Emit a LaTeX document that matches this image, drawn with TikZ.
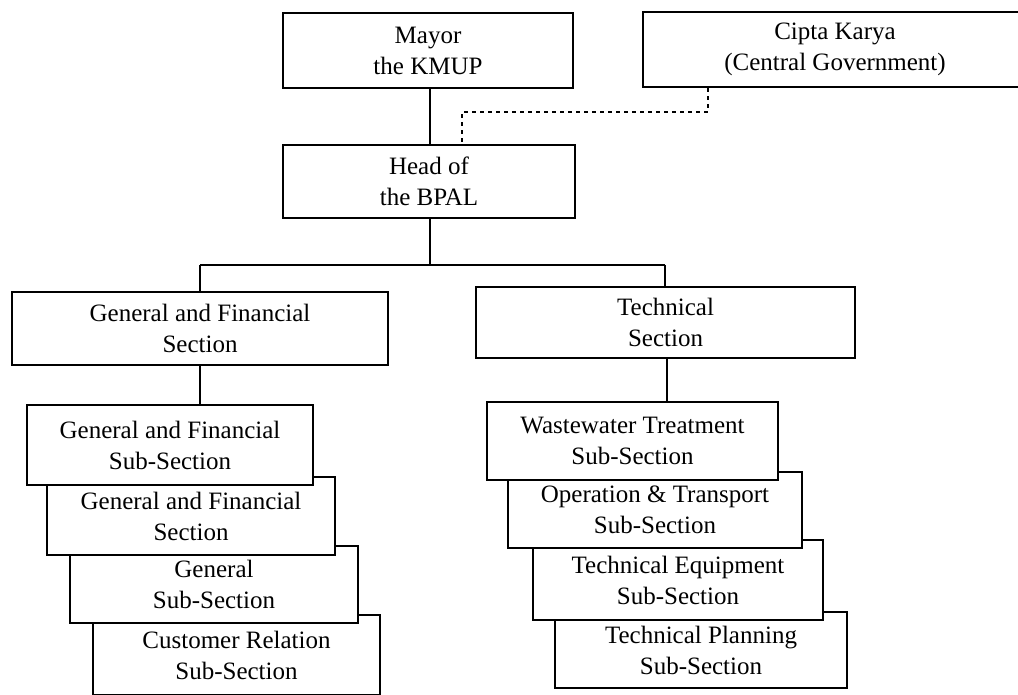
\documentclass[tikz,border=0pt]{standalone}
\usepackage{fontspec}
\setmainfont{Liberation Serif}
\begin{document}
\begin{tikzpicture}[x=1pt,y=-1pt,
  unit/.style={draw=black, fill=white, line width=2.2pt, align=center,
    inner sep=0pt, font=\fontsize{25}{31}\selectfont},
  link/.style={line width=2.8pt},
  advisory/.style={line width=2.6pt, dash pattern=on 4pt off 4pt}]
\useasboundingbox (0,0) rectangle (1018,695);
\clip (0,0) rectangle (1018,695);

% top level
\node[unit, minimum width=290pt, minimum height=75pt] (mayor) at (428,50.5) {Mayor\\the KMUP};
\node[unit, minimum width=384pt, minimum height=75pt] (cipta) at (835,49.5) {Cipta Karya\\(Central Government)};
\node[unit, minimum width=292pt, minimum height=73pt] (head) at (429,181.5) {Head of\\the BPAL};

% sections
\node[unit, minimum width=376pt, minimum height=73pt] (gfs) at (200,328.5) {General and Financial\\Section};
\node[unit, minimum width=379pt, minimum height=71pt] (tech) at (665.5,322.5) {Technical\\Section};

% stacked sub-sections, drawn back to front
\node[unit, minimum width=287pt, minimum height=80pt] (l4) at (236.5,655) {Customer Relation\\Sub-Section};
\node[unit, minimum width=288pt, minimum height=77pt] (l3) at (214,584.5) {General\\Sub-Section};
\node[unit, minimum width=288pt, minimum height=78pt] (l2) at (191,516) {General and Financial\\Section};
\node[unit, minimum width=286pt, minimum height=80pt] (l1) at (170,445) {General and Financial\\Sub-Section};

\node[unit, minimum width=292pt, minimum height=76pt] (r4) at (701,650) {Technical Planning\\Sub-Section};
\node[unit, minimum width=290pt, minimum height=80pt] (r3) at (678,580) {Technical Equipment\\Sub-Section};
\node[unit, minimum width=294pt, minimum height=76pt] (r2) at (655,510) {Operation \& Transport\\Sub-Section};
\node[unit, minimum width=291pt, minimum height=78pt] (r1) at (632.5,441) {Wastewater Treatment\\Sub-Section};

% reporting lines
\coordinate (split) at (430,265);
\coordinate (gfdrop) at (200,265);
\coordinate (techdrop) at (665,265);
\draw[link] (mayor.south -| split) -- (head.north -| split);
\draw[link] (head.south -| split) -- (split);
\draw[link] (gfdrop) -- (techdrop);
\draw[link] (gfdrop) -- (gfs.north -| gfdrop);
\draw[link] (techdrop) -- (tech.north -| techdrop);
\draw[link] (gfs.south -| gfdrop) -- (l1.north -| gfdrop);
\coordinate (techsub) at (667,380);
\draw[link] (tech.south -| techsub) -- (r1.north -| techsub);

% coordination with central government
\coordinate (c1) at (708,112);
\coordinate (c2) at (462,112);
\draw[advisory] (cipta.south -| c1) -- (c1) -- (c2) -- (head.north -| c2);
\end{tikzpicture}
\end{document}
